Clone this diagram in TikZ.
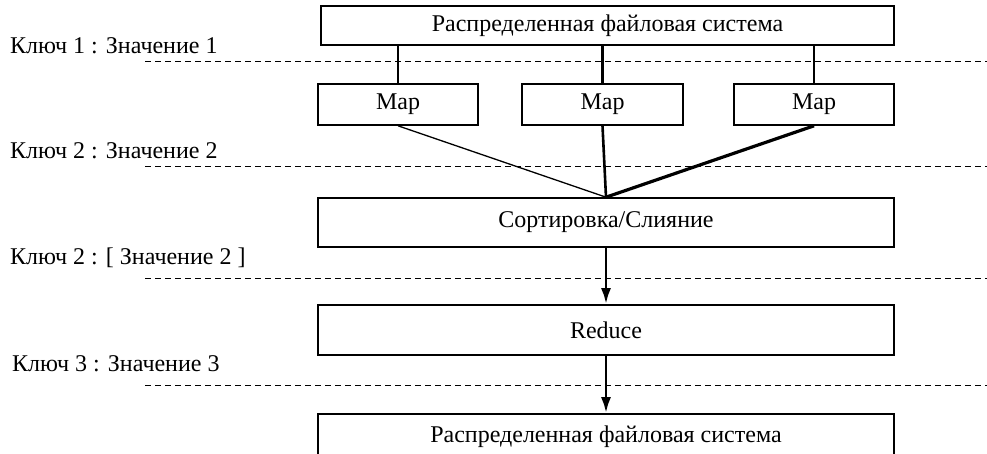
\documentclass[tikz,border=0pt]{standalone}
\usepackage{fontspec}
\setmainfont{Liberation Serif}
\usepackage{tikz}
\usetikzlibrary{arrows.meta, positioning, calc}

\begin{document}
\begin{tikzpicture}[x=1pt, y=-1pt,
    font=\fontsize{24}{28}\selectfont,
    box/.style={rectangle, draw, line width=1.6pt, inner sep=0pt},
    level/.style={dash pattern=on 6pt off 4pt, line width=1pt},
    key/.style={anchor=west, inner sep=0pt},
    conn/.style={line width=2.8pt},
    flow/.style={line width=2.8pt, -{Latex[length=16pt, width=10pt]}}]
    \useasboundingbox (0,0) rectangle (987,454);

    % Распределенная файловая система (вход)
    \node[box, minimum width=573pt, minimum height=39pt] (dfsin) at (607.5, 25.5) {Распределенная файловая система};

    % Map
    \node[box, minimum width=160pt, minimum height=41pt] (map1) at (398, 104.5) {Map};
    \node[box, minimum width=161pt, minimum height=41pt] (map2) at (602.5, 104.5) {Map};
    \node[box, minimum width=160pt, minimum height=41pt] (map3) at (814, 104.5) {Map};
    \draw[conn] (map1.north) -- (map1.north |- dfsin.south);
    \draw[conn] (map2.north) -- (map2.north |- dfsin.south);
    \draw[conn] (map3.north) -- (map3.north |- dfsin.south);

    % Сортировка/Слияние
    \node[box, minimum width=576pt, minimum height=49pt] (sort) at (606, 222.5) {Сортировка/Слияние};
    \draw[line width=1.3pt] (map1.south) -- (sort.north);
    \draw[line width=2.6pt] (map2.south) -- (sort.north);
    \draw[line width=3.2pt] (map3.south) -- (sort.north);

    % Reduce
    \node[box, minimum width=576pt, minimum height=50pt] (reduce) at (606, 330) {Reduce};
    \draw[flow] (sort.south) -- (reduce.north);

    % Распределенная файловая система (выход)
    \node[box, minimum width=576pt, minimum height=46pt] (dfsout) at (606, 437) {Распределенная файловая система};
    \draw[flow] (reduce.south) -- (dfsout.north);

    % уровни ключ/значение
    \node[key] (k1) at (10, 46) {Ключ 1 : Значение 1};
    \node[key] (k2) at (10, 151) {Ключ 2 : Значение 2};
    \node[key] (k3) at (10, 258) {Ключ 2 : [ Значение 2 ]};
    \node[key] (k4) at (12, 364) {Ключ 3 : Значение 3};
    \coordinate (l1a) at (145, 62);  \coordinate (l1b) at (987, 62);
    \coordinate (l2a) at (145, 167); \coordinate (l2b) at (987, 167);
    \coordinate (l3a) at (145, 278); \coordinate (l3b) at (987, 278);
    \coordinate (l4a) at (145, 385); \coordinate (l4b) at (987, 385);
    \draw[level] (l1a) -- (l1b);
    \draw[level] (l2a) -- (l2b);
    \draw[level] (l3a) -- (l3b);
    \draw[level] (l4a) -- (l4b);
\end{tikzpicture}
\end{document}
